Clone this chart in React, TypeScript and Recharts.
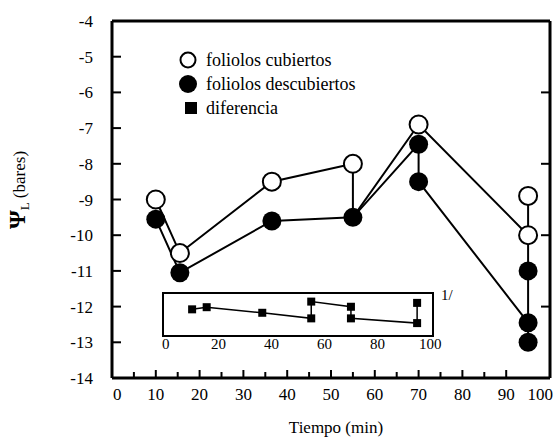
import {
  ComposedChart,
  LineChart,
  Line,
  Scatter,
  XAxis,
  YAxis,
  Legend,
  Label,
  ReferenceArea,
} from "recharts";

const FONT = "'Liberation Serif', 'Times New Roman', serif";

// potencial hídrico foliar (bares) vs tiempo (min); varias lecturas en algunos tiempos
const tiemposCubiertos = [10, 15.5, 36.5, 55, 70, 95, 95];
const psiCubiertos = [-9.0, -10.5, -8.5, -8.0, -6.9, -8.9, -10.0];
const tiemposDescubiertos = [10, 15.5, 36.5, 55, 70, 70, 95, 95, 95];
const psiDescubiertos = [-9.55, -11.05, -9.6, -9.5, -7.45, -8.5, -11.0, -12.45, -13.0];

// recuadro: diferencia entre ambos tratamientos
const tiemposDiferencia = [10, 15.5, 36.5, 55, 55, 70, 70, 95, 95];
const diferencia = [6.2, 6.7, 5.4, 4.1, 8.0, 6.8, 4.1, 3.0, 7.7];

const xTicks = [0, 5, 10, 15, 20, 25, 30, 35, 40, 45, 50, 55, 60, 65, 70, 75, 80, 85, 90, 100];
const xTicksTop = [10, 20, 30, 40, 50, 60, 70, 80, 90];
const yTicks = [-14, -13, -12, -11, -10, -9, -8, -7, -6, -5, -4];
const yTicksRight = [-12, -10, -8, -6];
const insetTicks = [0, 20, 40, 60, 80, 100];

const cub = tiemposCubiertos.map((t, i) => ({ t, psi: psiCubiertos[i] }));
const desc = tiemposDescubiertos.map((t, i) => ({ t, psi: psiDescubiertos[i] }));
const dif = tiemposDiferencia.map((t, i) => ({ t, d: diferencia[i] }));

// trazos que unen los puntos
const trazoCub = [cub[0], cub[1], cub[2], cub[3], desc[3], cub[4], cub[6]];
const trazoDesc = [desc[0], desc[1], desc[2], desc[3], desc[4], desc[5], desc[7]];
const trazo95 = [cub[5], desc[8]];

const TICK_W = 2;
const BOTTOM_GAP = 10;
const LEFT_GAP = 17;

// marcas hacia adentro del marco, dibujadas junto con la etiqueta
function BottomTick({ x, y, payload }: any) {
  const v = payload.value;
  const axisY = y - BOTTOM_GAP;
  const edge = v === 0 || v === 100;
  const anchor = v === 0 ? "start" : v === 100 ? "end" : "middle";
  const dx = v === 0 ? 1 : v === 100 ? 3 : 0;
  const len = v % 10 === 0 ? 8 : 6;
  return (
    <g>
      {!edge && <line x1={x} x2={x} y1={axisY} y2={axisY - len} stroke="#000" strokeWidth={TICK_W} />}
      {v % 10 === 0 && (
        <text x={x + dx} y={y} dy="0.71em" textAnchor={anchor} fontSize={17} fontFamily={FONT} fill="#000">
          {v}
        </text>
      )}
    </g>
  );
}

function TopTick({ x, y }: any) {
  return <line x1={x} x2={x} y1={y} y2={y + 8} stroke="#000" strokeWidth={TICK_W} />;
}

function LeftTick({ x, y, payload }: any) {
  const v = payload.value;
  const axisX = x + LEFT_GAP;
  const edge = v === -4 || v === -14;
  return (
    <g>
      {!edge && <line x1={axisX} x2={axisX + 9} y1={y} y2={y} stroke="#000" strokeWidth={TICK_W} />}
      <text x={x - 2} y={y} dy="0.355em" textAnchor="end" fontSize={17} fontFamily={FONT} fill="#000">
        {v}
      </text>
    </g>
  );
}

function RightTick({ x, y }: any) {
  return <line x1={x - 9} x2={x} y1={y} y2={y} stroke="#000" strokeWidth={TICK_W} />;
}

function InsetTick({ x, y, payload }: any) {
  return (
    <text x={x} y={y} dy="0.71em" textAnchor="middle" fontSize={15} fontFamily={FONT} fill="#000">
      {payload.value}
    </text>
  );
}

const OpenCircle = ({ cx, cy }: any) => (
  <circle cx={cx} cy={cy} r={9} fill="#fff" stroke="#000" strokeWidth={2} />
);
const FilledCircle = ({ cx, cy }: any) => <circle cx={cx} cy={cy} r={9.5} fill="#000" />;
const SquareDot = ({ cx, cy, index }: any) => (
  <rect key={index} x={cx - 4} y={cy - 4} width={8} height={8} fill="#000" />
);

function YTitle() {
  return (
    <text transform="translate(25,190) rotate(-90)" textAnchor="middle" fontFamily={FONT} fill="#000">
      <tspan fontSize={24} fontWeight="bold">Ψ</tspan>
      <tspan fontSize={13} dy={4}>L</tspan>
      <tspan fontSize={17} dy={-4}> (bares)</tspan>
    </text>
  );
}

function Leyenda() {
  const rows = [
    {
      label: "foliolos cubiertos",
      icon: <circle cx={10} cy={10} r={7.5} fill="#fff" stroke="#000" strokeWidth={2} />,
    },
    { label: "foliolos descubiertos", icon: <circle cx={10} cy={10} r={9} fill="#000" /> },
    { label: "diferencia", icon: <rect x={7} y={4} width={12} height={12} fill="#000" /> },
  ];
  return (
    <div style={{ fontFamily: FONT, fontSize: 18, color: "#000" }}>
      {rows.map((r) => (
        <div key={r.label} style={{ display: "flex", alignItems: "center", height: 24 }}>
          <svg width={20} height={20}>{r.icon}</svg>
          <span style={{ marginLeft: 8, whiteSpace: "nowrap" }}>{r.label}</span>
        </div>
      ))}
    </div>
  );
}

export default function App() {
  const axisLine = { stroke: "#000", strokeWidth: 3 };
  return (
    <div style={{ position: "absolute", left: 0, top: 0, width: 555, height: 437, background: "#fff" }}>
      <ComposedChart width={555} height={437} margin={{ top: 20, right: 4, bottom: 19, left: 52 }}>
        <XAxis
          type="number"
          dataKey="t"
          domain={[0, 100]}
          ticks={xTicks}
          interval={0}
          allowDataOverflow
          axisLine={axisLine}
          tickLine={false}
          tickSize={0}
          tickMargin={BOTTOM_GAP}
          tick={BottomTick}
          height={40}
        />
        <XAxis
          xAxisId="top"
          orientation="top"
          type="number"
          domain={[0, 100]}
          ticks={xTicksTop}
          interval={0}
          allowDataOverflow
          axisLine={axisLine}
          tickLine={false}
          tickSize={0}
          tickMargin={0}
          tick={TopTick}
          height={1}
        />
        <YAxis
          type="number"
          domain={[-14, -4]}
          ticks={yTicks}
          interval={0}
          allowDataOverflow
          axisLine={axisLine}
          tickLine={false}
          tickSize={0}
          tickMargin={LEFT_GAP}
          tick={LeftTick}
          width={60}
        >
          <Label content={YTitle} />
        </YAxis>
        <YAxis
          yAxisId="right"
          orientation="right"
          type="number"
          domain={[-14, -4]}
          ticks={yTicksRight}
          interval={0}
          allowDataOverflow
          axisLine={axisLine}
          tickLine={false}
          tickSize={0}
          tickMargin={0}
          tick={RightTick}
          width={1}
        />
        <Legend
          layout="vertical"
          align="center"
          verticalAlign="middle"
          content={Leyenda}
          wrapperStyle={{ left: 178, top: 48, width: "auto" }}
        />
        <Line data={trazoCub} dataKey="psi" stroke="#000" strokeWidth={2} dot={false} isAnimationActive={false} />
        <Line data={trazoDesc} dataKey="psi" stroke="#000" strokeWidth={2} dot={false} isAnimationActive={false} />
        <Line data={trazo95} dataKey="psi" stroke="#000" strokeWidth={2} dot={false} isAnimationActive={false} />
        <Scatter data={desc} dataKey="psi" shape={FilledCircle} isAnimationActive={false} />
        <Scatter data={cub} dataKey="psi" shape={OpenCircle} isAnimationActive={false} />
      </ComposedChart>

      <div
        style={{
          position: "absolute",
          left: 236,
          top: 418,
          width: 200,
          textAlign: "center",
          fontFamily: FONT,
          fontSize: 17,
          lineHeight: "20px",
          color: "#000",
        }}
      >
        Tiempo (min)
      </div>

      <div style={{ position: "absolute", left: 140, top: 283 }}>
        <LineChart width={320} height={75} margin={{ top: 10, right: 27, bottom: 0, left: 23 }}>
          <XAxis
            type="number"
            dataKey="t"
            domain={[-1, 101]}
            ticks={insetTicks}
            interval={0}
            allowDataOverflow
            axisLine={false}
            tickLine={false}
            tickSize={0}
            tickMargin={2}
            tick={InsetTick}
            height={22}
          />
          <YAxis type="number" domain={[0, 10]} hide allowDataOverflow />
          <ReferenceArea x1={-1} x2={101} y1={0} y2={10} fill="none" stroke="#000" strokeWidth={2} />
          <Line
            data={dif}
            dataKey="d"
            stroke="#000"
            strokeWidth={1.5}
            dot={SquareDot}
            isAnimationActive={false}
          />
        </LineChart>
      </div>
      <span
        style={{
          position: "absolute",
          left: 441,
          top: 287,
          fontFamily: FONT,
          fontSize: 15,
          color: "#000",
        }}
      >
        1/
      </span>
    </div>
  );
}
